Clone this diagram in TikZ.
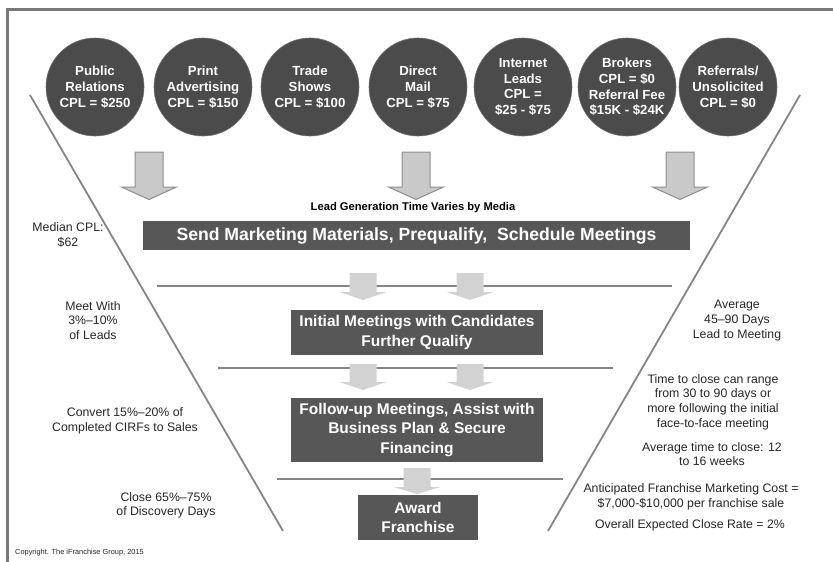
\documentclass[tikz,border=0pt]{standalone}
\usepackage{fontspec}
\setmainfont{Liberation Sans}
\definecolor{darkfill}{HTML}{4B4B4B}
\definecolor{boxfill}{HTML}{575757}
\definecolor{linegray}{HTML}{858585}
\definecolor{arrowfill}{HTML}{C9C9C9}
\definecolor{arrowedge}{HTML}{8E8E8E}
\definecolor{smallarrow}{HTML}{D2D2D2}
\definecolor{txt}{HTML}{262626}
\tikzset{
  src/.style={circle, fill=darkfill, draw=darkfill!80!white, line width=0.6pt, minimum size=98pt, inner sep=0pt,
    text=white, align=center, font=\fontsize{13.2}{15.8}\selectfont\bfseries},
  stage/.style={rectangle, fill=boxfill, inner sep=0pt, text=white, align=center,
    font=\fontsize{15.5}{19.5}\selectfont\bfseries},
  funnel/.style={draw=linegray, line width=1.8pt},
  divider/.style={draw=linegray, line width=2.4pt},
  bigarr/.style={fill=arrowfill, draw=arrowedge, line width=1pt, line join=miter},
  smallarr/.style={fill=smallarrow, draw=none},
  note/.style={align=center, text=txt, font=\fontsize{12.3}{14.6}\selectfont, inner sep=0pt},
}
\begin{document}
\begin{tikzpicture}[x=1pt,y=-1pt]
\useasboundingbox (0,0) rectangle (833,562);
\begin{scope}
\clip (0,0) rectangle (833,562);
\draw[draw=linegray!90!black, line width=2.6pt] (7.5,9.5) rectangle (850,580);
\end{scope}
% funnel sides
\coordinate (lt) at (30,95); \coordinate (lb) at (283,531);
\coordinate (rt) at (800,95); \coordinate (rb) at (548,531);
\draw[funnel] (lt) -- (lb);
\draw[funnel] (rt) -- (rb);
% source circles
\node[src] (pr) at (95,87) {Public\\Relations\\CPL = \$250};
\node[src] (pa) at (203,87) {Print\\Advertising\\CPL = \$150};
\node[src] (ts) at (310,87) {Trade\\Shows\\CPL = \$100};
\node[src] (dm) at (418,87) {Direct\\Mail\\CPL = \$75};
\node[src] (il) at (523,87) {Internet\\Leads\\CPL =\\\$25 - \$75};
\node[src] (br) at (627,87) {Brokers\\CPL = \$0\\Referral Fee\\\$15K - \$24K};
\node[src] (rf) at (728,87) {Referrals/\\Unsolicited\\CPL = \$0};
% big arrows
\foreach \c in {149,416,680}{
  \draw[bigarr] (\c-14,152) -- (\c+14,152) -- (\c+14,187) -- (\c+27.5,187) -- (\c,199.5) -- (\c-27.5,187) -- (\c-14,187) -- cycle;
}
\node[font=\fontsize{11.2}{12}\selectfont\bfseries, text=black, inner sep=0pt] (lg) at (413,208) {Lead Generation Time Varies by Media};
% send bar
\node[stage, minimum width=547pt, minimum height=29pt, font=\fontsize{17.6}{20}\selectfont\bfseries] (send) at (416.5,235.5) {Send Marketing Materials, Prequalify,\ \ Schedule Meetings};
% dividers
\coordinate (d1a) at (157,286); \coordinate (d1b) at (672,286);
\coordinate (d2a) at (218,368); \coordinate (d2b) at (613,368);
\coordinate (d3a) at (277,479); \coordinate (d3b) at (563,479);
\draw[divider] (d1a) -- (d1b);
\draw[divider] (d2a) -- (d2b);
\draw[divider] (d3a) -- (d3b);
% small arrows
\foreach \c in {363,470}{
  \fill[smallarr] (\c-13.5,273) -- (\c+13.5,273) -- (\c+13.5,292) -- (\c+23.5,292) -- (\c,300) -- (\c-23.5,292) -- (\c-13.5,292) -- cycle;
  \fill[smallarr] (\c-13.5,364) -- (\c+13.5,364) -- (\c+13.5,382) -- (\c+23.5,382) -- (\c,390) -- (\c-23.5,382) -- (\c-13.5,382) -- cycle;
}
\fill[smallarr] (417-13.5,468) -- (417+13.5,468) -- (417+13.5,487) -- (417+23.5,487) -- (417,494) -- (417-23.5,487) -- (417-13.5,487) -- cycle;
% stage boxes
\node[stage, minimum width=252pt, minimum height=45pt] (init) at (417,332.5) {Initial Meetings with Candidates\\Further Qualify};
\node[stage, minimum width=252pt, minimum height=64pt] (fup) at (417,430) {Follow-up Meetings, Assist with\\Business Plan \& Secure\\Financing};
\node[stage, minimum width=120pt, minimum height=45pt] (award) at (418,517.5) {Award\\Franchise};
% left notes
\node[note] (n1) at (68,235) {Median CPL:\\\$62};
\node[note] (n2) at (93,320.5) {Meet With\\3\%–10\%\\of Leads};
\node[note] (n3) at (125,421) {Convert 15\%–20\% of\\Completed CIRFs to Sales};
\node[note] (n4) at (166,505.5) {Close 65\%–75\%\\of Discovery Days};
% right notes
\node[note] (m1) at (737,320.5) {Average\\45–90 Days\\Lead to Meeting};
\node[note] (m2) at (713,402) {Time to close can range\\from 30 to 90 days or\\more following the initial\\face-to-face meeting};
\node[note] (m3) at (712,454) {Average time to close: 12\\to 16 weeks};
\node[note] (m4) at (691,497) {Anticipated Franchise Marketing Cost =\\\$7,000-\$10,000 per franchise sale};
\node[note] (m5) at (690,525) {Overall Expected Close Rate = 2\%};
% copyright
\node[anchor=west, font=\fontsize{7.4}{8}\selectfont, text=txt, inner sep=0pt] (copy) at (15,553) {Copyright. The iFranchise Group, 2015};
\end{tikzpicture}
\end{document}
